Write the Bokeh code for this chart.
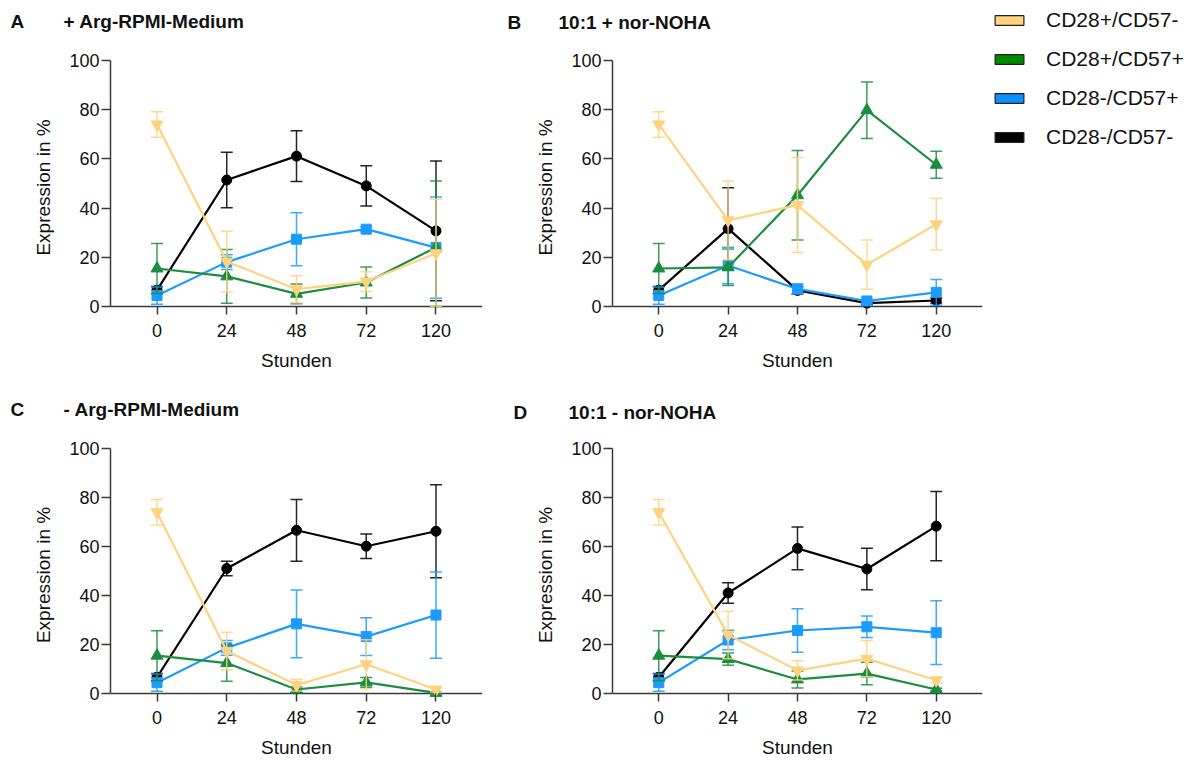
from bokeh.plotting import figure
from bokeh.models import FactorRange, Range1d, Span, Label, Legend, LegendItem, FixedTicker
from bokeh.layouts import row, column
from bokeh.embed import file_html
from bokeh.resources import INLINE

# ---------------- data ----------------
hours = ["0", "24", "48", "72", "120"]
series_names = ["CD28+/CD57-", "CD28+/CD57+", "CD28-/CD57+", "CD28-/CD57-"]

# Panel A: + Arg-RPMI-Medium
a_yellow = [74.0, 18.2, 7.0, 10.1, 21.6]
a_yellow_sd = [5.2, 12.4, 5.5, 4.0, 22.0]
a_green = [15.4, 12.2, 5.1, 9.7, 24.0]
a_green_sd = [10.2, 10.9, 4.0, 6.3, 27.0]
a_blue = [4.4, 18.0, 27.3, 31.4, 23.9]
a_blue_sd = [3.5, 3.0, 10.8, 1.0, 20.6]
a_black = [6.6, 51.4, 61.1, 49.0, 30.7]
a_black_sd = [1.5, 11.3, 10.3, 8.2, 28.4]

# Panel B: 10:1 + nor-NOHA
b_yellow = [74.0, 35.0, 41.2, 17.0, 33.4]
b_yellow_sd = [5.2, 16.0, 19.3, 10.0, 10.5]
b_green = [15.4, 15.9, 45.2, 79.8, 57.6]
b_green_sd = [10.2, 7.4, 18.2, 11.5, 5.5]
b_blue = [4.4, 16.6, 7.1, 2.2, 5.7]
b_blue_sd = [3.5, 7.4, 2.0, 0.8, 5.2]
b_black = [6.6, 31.6, 6.5, 1.3, 2.4]
b_black_sd = [1.5, 16.6, 1.5, 0.5, 1.0]

# Panel C: - Arg-RPMI-Medium
c_yellow = [74.0, 17.3, 3.4, 11.9, 1.6]
c_yellow_sd = [5.2, 7.7, 2.4, 10.0, 1.0]
c_green = [15.4, 12.4, 1.6, 4.5, 0.2]
c_green_sd = [10.2, 7.4, 1.0, 2.0, 0.5]
c_blue = [4.4, 18.6, 28.4, 23.2, 32.0]
c_blue_sd = [3.5, 3.0, 13.8, 7.7, 17.6]
c_black = [6.6, 51.0, 66.6, 60.1, 66.2]
c_black_sd = [1.5, 3.0, 12.6, 5.0, 19.0]

# Panel D: 10:1 - nor-NOHA
d_yellow = [74.0, 23.9, 9.4, 14.2, 5.4]
d_yellow_sd = [5.2, 9.7, 3.9, 7.4, 1.0]
d_green = [15.4, 14.0, 5.7, 8.1, 1.6]
d_green_sd = [10.2, 2.5, 3.5, 4.6, 0.5]
d_blue = [4.4, 21.8, 25.7, 27.2, 24.8]
d_blue_sd = [3.5, 4.0, 8.9, 4.4, 13.0]
d_black = [6.6, 41.0, 59.2, 50.8, 68.3]
d_black_sd = [1.5, 4.2, 8.7, 8.5, 14.1]

y_ticks = [0, 20, 40, 60, 80, 100]

# ---------------- style ----------------
FONT = "Liberation Sans"
AXIS_COLOR = "#3a3a3a"
line_colors = {"CD28+/CD57-": "#FFD27F", "CD28+/CD57+": "#1C8C40",
               "CD28-/CD57+": "#1C9BFF", "CD28-/CD57-": "#000000"}
legend_colors = {"CD28+/CD57-": "#FFD37F", "CD28+/CD57+": "#008A00",
                 "CD28-/CD57+": "#0A90FF", "CD28-/CD57-": "#000000"}
markers = {"CD28+/CD57-": ("inverted_triangle", 12), "CD28+/CD57+": ("triangle", 12),
           "CD28-/CD57+": ("square", 10), "CD28-/CD57-": ("circle", 10)}
draw_order = ["CD28-/CD57-", "CD28-/CD57+", "CD28+/CD57+", "CD28+/CD57-"]

Y_START = -3.3
PAD = 0.0667  # factor range padding (fraction)


def make_panel(letter, title, data, geom, lab):
    w, h, bl, br, bt, bb = geom
    p = figure(width=w, height=h,
               x_range=FactorRange(factors=hours, range_padding=PAD, range_padding_units="percent"),
               y_range=Range1d(Y_START, 100),
               output_backend="svg", toolbar_location=None,
               min_border_left=bl, min_border_right=br, min_border_top=bt, min_border_bottom=bb)
    p.outline_line_color = None
    p.grid.visible = False
    p.background_fill_color = "white"
    p.border_fill_color = "white"

    p.add_layout(Span(location=0, dimension="width", line_color=AXIS_COLOR,
                      line_width=1.5, level="underlay"))

    for name in draw_order:
        mean, sd = data[name]
        col = line_colors[name]
        upper = [m + s for m, s in zip(mean, sd)]
        lower = [max(m - s, 0.0) for m, s in zip(mean, sd)]
        ealpha = 0.85
        p.segment(x0=hours, y0=lower, x1=hours, y1=upper, line_color=col,
                  line_width=1.5, line_alpha=ealpha)
        p.scatter(x=hours, y=upper, marker="dash", size=12, line_color=col,
                  line_width=1.5, line_alpha=ealpha)
        p.scatter(x=hours, y=lower, marker="dash", size=12, line_color=col,
                  line_width=1.5, line_alpha=ealpha)
        p.line(x=hours, y=mean, line_color=col, line_width=2.2)
        mk, sz = markers[name]
        p.scatter(x=hours, y=mean, marker=mk, size=sz, fill_color=col, line_color=col)

    yax = p.yaxis[0]
    yax.ticker = FixedTicker(ticks=y_ticks)
    yax.bounds = (0, 100)
    yax.axis_line_color = AXIS_COLOR
    yax.axis_line_width = 1.5
    yax.major_tick_line_color = AXIS_COLOR
    yax.major_tick_line_width = 1.5
    yax.major_tick_out = 9
    yax.major_tick_in = 0
    yax.minor_tick_line_color = None
    yax.major_label_standoff = 2
    yax.major_label_text_font = FONT
    yax.major_label_text_font_size = "18px"
    yax.major_label_text_color = "#111111"
    yax.axis_label = "Expression in %"
    yax.axis_label_text_font = FONT
    yax.axis_label_text_font_size = "19px"
    yax.axis_label_text_font_style = "normal"
    yax.axis_label_text_color = "#111111"
    yax.axis_label_standoff = 12

    xax = p.xaxis[0]
    xax.axis_line_color = None
    xax.major_tick_line_color = AXIS_COLOR
    xax.major_tick_line_width = 1.5
    xax.major_tick_in = 8
    xax.major_tick_out = 0
    xax.minor_tick_line_color = None
    xax.major_label_standoff = 9
    xax.major_label_text_font = FONT
    xax.major_label_text_font_size = "18px"
    xax.major_label_text_color = "#111111"
    xax.axis_label = "Stunden"
    xax.axis_label_text_font = FONT
    xax.axis_label_text_font_size = "19px"
    xax.axis_label_text_font_style = "normal"
    xax.axis_label_text_color = "#111111"
    xax.axis_label_standoff = 10

    # panel letter and title (in the "above" side panel so that they are not clipped)
    lx, tx, ly = lab
    for xx, txt in ((lx, letter), (tx, title)):
        p.add_layout(Label(x=xx, y=ly, text=txt, text_font=FONT, text_font_size="19px",
                           text_font_style="bold", text_baseline="alphabetic",
                           text_color="#111111"), "above")
    return p


def panel_data(yel, yel_sd, grn, grn_sd, blu, blu_sd, blk, blk_sd):
    return {"CD28+/CD57-": (yel, yel_sd), "CD28+/CD57+": (grn, grn_sd),
            "CD28-/CD57+": (blu, blu_sd), "CD28-/CD57-": (blk, blk_sd)}


pA = make_panel("A", "+ Arg-RPMI-Medium",
                panel_data(a_yellow, a_yellow_sd, a_green, a_green_sd, a_blue, a_blue_sd, a_black, a_black_sd),
                (500, 380, 110, 18, 60, 65), (-1.600, -0.840, 116.0))
pB = make_panel("B", "10:1 + nor-NOHA",
                panel_data(b_yellow, b_yellow_sd, b_green, b_green_sd, b_blue, b_blue_sd, b_black, b_black_sd),
                (490, 380, 112, 8, 58, 66), (-1.680, -0.945, 115.6))
pC = make_panel("C", "- Arg-RPMI-Medium",
                panel_data(c_yellow, c_yellow_sd, c_green, c_green_sd, c_blue, c_blue_sd, c_black, c_black_sd),
                (500, 381, 110, 18, 67, 60), (-1.600, -0.840, 116.0))
pD = make_panel("D", "10:1 - nor-NOHA",
                panel_data(d_yellow, d_yellow_sd, d_green, d_green_sd, d_blue, d_blue_sd, d_black, d_black_sd),
                (490, 381, 112, 8, 68, 57), (-1.594, -0.801, 114.9))

# ---------------- legend ----------------
pL = figure(width=207, height=380, x_range=Range1d(0, 1), y_range=Range1d(0, 1),
            output_backend="svg", toolbar_location=None,
            x_axis_location=None, y_axis_location=None,
            min_border_left=1, min_border_right=0, min_border_top=5, min_border_bottom=66)
pL.outline_line_color = None
pL.grid.visible = False
# keep the legend figure's frame independent of the neighbouring panels
try:
    pL.frame_align = False
except AttributeError:
    pass
items = []
for name in series_names:
    # legend proxy glyph, kept outside the visible range of this legend-only figure
    r = pL.quad(left=[5], right=[6], top=[6], bottom=[5], fill_color=legend_colors[name],
                line_color="#222222", line_width=1.2)
    items.append(LegendItem(label=name, renderers=[r]))
leg = Legend(items=items, location=(0, 165), margin=0, padding=0,
             glyph_width=36, glyph_height=12, label_standoff=19, spacing=15,
             label_text_font=FONT, label_text_font_size="21px", label_text_color="#111111",
             border_line_color=None, background_fill_alpha=0)
pL.add_layout(leg)

layout = column(row(pA, pB, pL), row(pC, pD))
open("out.html", "w").write(file_html(layout, INLINE))
